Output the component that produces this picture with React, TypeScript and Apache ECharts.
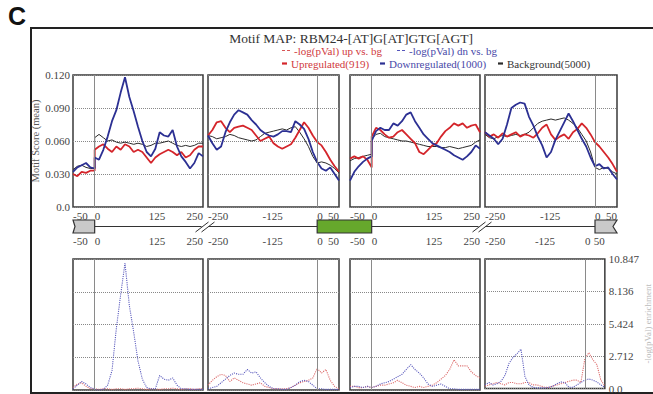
import React, { useEffect, useRef } from 'react';
import * as echarts from 'echarts';

// x positions (nt relative to splice sites); panels A have a jump at 0
const xsA = [-50,-40,-30,-20,-10,0,0,10,20,30,40,50,60,70,80,90,100,110,120,130,140,150,160,170,180,190,200,210,220,230,240,250];
const xsB = [-250,-240,-230,-220,-210,-200,-190,-180,-170,-160,-150,-140,-130,-120,-110,-100,-90,-80,-70,-60,-50,-40,-30,-20,-10,0,10,20,30,40,50];
const ticksA = [-50, 0, 125, 250];
const ticksB = [-250, -125, 0, 50];

// Motif score (mean)
const up1 = [0.030,0.028,0.032,0.031,0.033,0.033,0.052,0.055,0.057,0.053,0.050,0.055,0.052,0.057,0.055,0.050,0.052,0.050,0.045,0.040,0.045,0.048,0.050,0.052,0.050,0.047,0.050,0.045,0.047,0.052,0.055,0.055];
const dn1 = [0.032,0.036,0.038,0.040,0.036,0.035,0.045,0.043,0.052,0.064,0.078,0.088,0.104,0.118,0.100,0.087,0.073,0.060,0.050,0.046,0.053,0.068,0.065,0.064,0.070,0.055,0.046,0.041,0.035,0.040,0.049,0.046];
const bg1 = [0.034,0.037,0.038,0.036,0.035,0.035,0.063,0.066,0.063,0.060,0.061,0.059,0.058,0.059,0.058,0.057,0.058,0.057,0.055,0.056,0.058,0.058,0.059,0.060,0.058,0.056,0.055,0.056,0.055,0.056,0.058,0.058];
const up2 = [0.065,0.070,0.077,0.078,0.072,0.068,0.072,0.073,0.074,0.072,0.070,0.065,0.060,0.062,0.064,0.058,0.055,0.053,0.055,0.057,0.063,0.070,0.077,0.072,0.065,0.059,0.056,0.050,0.043,0.037,0.032];
const dn2 = [0.065,0.058,0.052,0.055,0.068,0.077,0.084,0.088,0.086,0.084,0.079,0.075,0.070,0.067,0.065,0.064,0.066,0.069,0.069,0.068,0.078,0.075,0.071,0.062,0.050,0.041,0.035,0.033,0.036,0.030,0.024];
const bg2 = [0.065,0.064,0.062,0.063,0.064,0.066,0.065,0.063,0.062,0.061,0.060,0.061,0.064,0.067,0.068,0.069,0.070,0.071,0.070,0.072,0.073,0.068,0.062,0.055,0.046,0.040,0.041,0.040,0.038,0.035,0.031];
const up3 = [0.044,0.046,0.044,0.046,0.043,0.036,0.064,0.072,0.070,0.066,0.063,0.064,0.068,0.070,0.066,0.062,0.058,0.050,0.048,0.052,0.056,0.058,0.064,0.069,0.072,0.076,0.074,0.076,0.072,0.074,0.075,0.068];
const dn3 = [0.024,0.032,0.037,0.041,0.044,0.046,0.060,0.069,0.072,0.070,0.070,0.076,0.074,0.078,0.084,0.086,0.078,0.072,0.066,0.062,0.058,0.056,0.054,0.052,0.050,0.047,0.045,0.043,0.046,0.050,0.056,0.053];
const bg3 = [0.042,0.044,0.045,0.046,0.047,0.048,0.062,0.066,0.067,0.064,0.063,0.062,0.061,0.060,0.060,0.059,0.058,0.057,0.056,0.055,0.055,0.055,0.054,0.054,0.055,0.054,0.053,0.054,0.055,0.056,0.059,0.061];
const up4 = [0.068,0.064,0.066,0.063,0.067,0.064,0.066,0.068,0.064,0.066,0.065,0.063,0.067,0.072,0.075,0.066,0.061,0.064,0.066,0.062,0.068,0.071,0.076,0.072,0.066,0.059,0.055,0.050,0.045,0.039,0.032];
const dn4 = [0.068,0.065,0.062,0.057,0.062,0.075,0.090,0.093,0.095,0.094,0.082,0.074,0.064,0.056,0.045,0.050,0.061,0.069,0.077,0.085,0.078,0.070,0.062,0.055,0.045,0.037,0.039,0.035,0.036,0.030,0.025];
const bg4 = [0.066,0.063,0.062,0.064,0.065,0.064,0.065,0.066,0.065,0.066,0.068,0.072,0.076,0.078,0.079,0.080,0.079,0.080,0.081,0.079,0.076,0.072,0.066,0.060,0.050,0.036,0.034,0.036,0.035,0.032,0.030];

// -log(pVal)
const pUp1 = [0.2,0.5,0.6,0.3,0.1,0.1,0.05,0.05,0.1,0.1,0.05,0.1,0.1,0.05,0.1,0.1,0.15,0.1,0.05,0.1,0.1,0.05,0.1,0.1,0.15,0.1,0.05,0.1,0.1,0.05,0.1,0.1];
const pDn1 = [0.1,0.4,0.7,0.5,0.2,0.1,0.0,0.0,0.05,0.4,1.6,5.1,7.9,10.5,7.0,4.8,2.4,0.9,0.2,0.1,0.1,1.2,0.9,0.8,1.0,0.4,0.1,0.1,0.05,0.05,0.05,0.05];
const pUp2 = [0.4,0.8,1.1,1.3,1.2,0.7,1.0,0.8,0.6,0.5,0.4,0.5,0.6,0.3,0.2,0.1,0.1,0.1,0.1,0.2,0.4,0.6,0.7,0.8,1.0,1.8,1.4,1.7,0.8,0.3,0.1];
const pDn2 = [0.1,0.2,0.3,0.6,0.9,1.2,1.4,1.3,1.3,1.7,1.4,1.5,1.0,0.6,0.3,0.1,0.1,0.05,0.05,0.2,0.4,0.7,0.8,0.7,0.4,0.1,0.1,0.05,0.05,0.05,0.05];
const pUp3 = [0.3,0.3,0.2,0.2,0.3,0.2,0.2,0.3,0.4,0.4,0.5,0.6,0.8,0.6,0.4,0.3,0.2,0.3,0.2,0.3,0.4,0.6,0.9,1.2,1.7,2.5,2.0,2.0,2.0,1.5,1.2,1.0];
const pDn3 = [0.2,0.3,0.3,0.2,0.3,0.2,0.2,0.3,0.5,0.6,0.7,0.9,1.1,1.3,1.7,2.1,1.7,1.4,1.0,0.5,0.3,0.4,0.5,0.3,0.1,0.1,0.05,0.05,0.05,0.05,0.05,0.05];
const pUp4 = [0.2,0.3,0.4,0.5,0.4,0.3,0.5,0.5,0.4,0.4,0.5,0.5,0.3,0.3,0.2,0.1,0.1,0.2,0.3,0.4,0.5,0.6,0.7,0.7,0.5,2.5,3.0,2.4,2.0,0.7,0.2];
const pDn4 = [0.3,0.5,0.3,0.4,0.6,1.1,2.1,2.6,2.9,3.3,1.0,0.3,0.1,0.05,0.05,0.05,0.1,0.2,0.4,0.55,0.5,0.1,0.1,0.3,0.5,0.7,0.8,0.7,0.55,0.3,0.1];

const scoreTickLabels = ['0.0', '0.030', '0.060', '0.090', '0.120'];
const pTickLabels = ['0.0', '2.712', '5.424', '8.136', '10.847'];

const NAME_UP = 'Upregulated(919)';
const NAME_DN = 'Downregulated(1000)';
const NAME_BG = 'Background(5000)';
const NAME_PUP = '-log(pVal) up vs. bg';
const NAME_PDN = '-log(pVal) dn vs. bg';

const RED = '#d4252b';
const BLUE = '#2c3093';
const BLACK = '#2b2b2b';
const FONT = "'Liberation Serif', 'DejaVu Serif', serif";

const panels = [
  { xs: xsA, up: up1, dn: dn1, bg: bg1, pUp: pUp1, pDn: pDn1, min: -50, max: 250, ticks: ticksA },
  { xs: xsB, up: up2, dn: dn2, bg: bg2, pUp: pUp2, pDn: pDn2, min: -250, max: 50, ticks: ticksB },
  { xs: xsA, up: up3, dn: dn3, bg: bg3, pUp: pUp3, pDn: pDn3, min: -50, max: 250, ticks: ticksA },
  { xs: xsB, up: up4, dn: dn4, bg: bg4, pUp: pUp4, pDn: pDn4, min: -250, max: 50, ticks: ticksB },
];

const LEFTS = [73, 208, 350, 485];
const WIDTHS = [130, 131, 130, 132];
const TOP_Y = 75, TOP_H = 132;
const BOT_Y = 259, BOT_H = 131;
const P_MAX = 10.847;
const P_INT = P_MAX / 4;

function buildOption() {
  const grid: any[] = [];
  const xAxis: any[] = [];
  const yAxis: any[] = [];
  const series: any[] = [];
  const zeroLine = {
    silent: true, symbol: 'none', label: { show: false },
    lineStyle: { color: '#8a8a8a', width: 1, type: 'solid' },
    data: [{ xAxis: 0 }],
  };
  const xLabel = (margin: number) => ({
    fontSize: 11, fontFamily: FONT, color: '#444', margin,
    align: 'left', alignMaxLabel: 'right',
  });

  panels.forEach((p, i) => {
    grid.push({ left: LEFTS[i], top: TOP_Y, width: WIDTHS[i], height: TOP_H, show: true,
      borderColor: '#3a3a3a', borderWidth: 1.5, backgroundColor: '#fff' });
    xAxis.push({ type: 'value', gridIndex: i, min: p.min, max: p.max,
      axisLine: { show: false }, axisTick: { show: false }, splitLine: { show: false },
      axisLabel: { ...xLabel(3), customValues: p.ticks } });
    yAxis.push({ type: 'value', gridIndex: i, min: 0, max: 0.12, interval: 0.03,
      axisLine: { show: false }, axisTick: { show: false },
      splitLine: { show: true, lineStyle: { type: 'dotted', color: '#888', width: 1 } },
      axisLabel: { show: i === 0, fontSize: 11, fontFamily: FONT, color: '#444', margin: 3,
        formatter: (v: number) => scoreTickLabels[Math.round(v / 0.03)] },
      name: i === 0 ? 'Motif Score (mean)' : '', nameLocation: 'middle', nameGap: 30,
      nameTextStyle: { fontSize: 10.5, fontFamily: FONT, color: '#555' } });
  });
  panels.forEach((p, i) => {
    const g = 4 + i;
    grid.push({ left: LEFTS[i], top: BOT_Y, width: WIDTHS[i], height: BOT_H, show: true,
      borderColor: '#3a3a3a', borderWidth: 1.5, backgroundColor: '#fff' });
    xAxis.push({ type: 'value', gridIndex: g, min: p.min, max: p.max, position: 'top',
      axisLine: { show: false }, axisTick: { show: false }, splitLine: { show: false },
      axisLabel: { ...xLabel(13), customValues: p.ticks } });
    yAxis.push({ type: 'value', gridIndex: g, min: 0, max: P_MAX, interval: P_INT,
      position: 'right',
      axisLine: { show: false }, axisTick: { show: false },
      splitLine: { show: true, lineStyle: { type: 'dotted', color: '#888', width: 1 } },
      axisLabel: { show: i === 3, fontSize: 11, fontFamily: FONT, color: '#444', margin: 4,
        formatter: (v: number) => pTickLabels[Math.round(v / P_INT)] },
      name: i === 3 ? '-log(pVal) enrichment' : '', nameLocation: 'middle', nameGap: 30,
      nameTextStyle: { fontSize: 9, fontFamily: FONT, color: '#bbb' } });
  });

  panels.forEach((p, i) => {
    const mk = (vals: number[]) => p.xs.map((x, j) => [x, vals[j]]);
    series.push({ type: 'line', name: NAME_BG, xAxisIndex: i, yAxisIndex: i, data: mk(p.bg),
      symbol: 'none', color: BLACK, lineStyle: { width: 1, color: BLACK }, markLine: zeroLine, z: 2 });
    series.push({ type: 'line', name: NAME_UP, xAxisIndex: i, yAxisIndex: i, data: mk(p.up),
      symbol: 'none', color: RED, lineStyle: { width: 1.8, color: RED }, z: 3 });
    series.push({ type: 'line', name: NAME_DN, xAxisIndex: i, yAxisIndex: i, data: mk(p.dn),
      symbol: 'none', color: BLUE, lineStyle: { width: 1.8, color: BLUE }, z: 4 });
    const g = 4 + i;
    series.push({ type: 'line', name: NAME_PUP, xAxisIndex: g, yAxisIndex: g, data: mk(p.pUp),
      symbol: 'none', color: '#d85555', lineStyle: { width: 1.1, type: 'dotted', color: '#dc6a6a' },
      markLine: zeroLine, z: 3 });
    series.push({ type: 'line', name: NAME_PDN, xAxisIndex: g, yAxisIndex: g, data: mk(p.pDn),
      symbol: 'none', color: '#5555bb', lineStyle: { width: 1.1, type: 'dotted', color: '#5a5abd' }, z: 4 });
  });

  // gene diagram, positioned from the panel scales
  const xPix = (i: number, v: number) =>
    LEFTS[i] + ((v - panels[i].min) / (panels[i].max - panels[i].min)) * WIDTHS[i];
  const gy = 226.5, gh = 13;
  const z0 = xPix(0, 0), z1 = xPix(1, 0), z2 = xPix(2, 0), z3 = xPix(3, 0);
  const gap1 = (LEFTS[0] + WIDTHS[0] + LEFTS[1]) / 2;
  const gap2 = (LEFTS[2] + WIDTHS[2] + LEFTS[3]) / 2;
  const right = LEFTS[3] + WIDTHS[3];
  const lineStyle = { stroke: '#333', lineWidth: 1 };
  const breakMark = (cx: number) => [
    { type: 'line', shape: { x1: cx - 10, y1: gy + 5.5, x2: cx + 3, y2: gy - 4.5 }, style: lineStyle },
    { type: 'line', shape: { x1: cx - 4, y1: gy + 5.5, x2: cx + 9, y2: gy - 4.5 }, style: lineStyle },
  ];
  const graphic: any[] = [
    { type: 'rect', shape: { x: 31, y: 28, width: 700, height: 365 }, style: { fill: 'none', stroke: '#222', lineWidth: 2 }, z: 0 },
    { type: 'text', left: 8, top: 3, style: { text: 'C', font: 'bold 25px "Liberation Sans"', fill: '#111' } },
    { type: 'text', x: 351, y: 38, style: { text: 'Motif MAP: RBM24-[AT]G[AT]GTG[AGT]', font: `13.5px ${FONT}`, fill: '#333', align: 'center', verticalAlign: 'middle' } },
    { type: 'line', shape: { x1: z0, y1: gy, x2: gap1 - 4, y2: gy }, style: lineStyle },
    { type: 'line', shape: { x1: gap1 + 3, y1: gy, x2: z1, y2: gy }, style: lineStyle },
    { type: 'line', shape: { x1: z2, y1: gy, x2: gap2 - 4, y2: gy }, style: lineStyle },
    { type: 'line', shape: { x1: gap2 + 3, y1: gy, x2: z3, y2: gy }, style: lineStyle },
    ...breakMark(gap1),
    ...breakMark(gap2),
    { type: 'polygon', shape: { points: [[LEFTS[0], gy - gh / 2], [z0, gy - gh / 2], [z0, gy + gh / 2], [LEFTS[0], gy + gh / 2], [LEFTS[0] + 2, gy]] },
      style: { fill: '#c9c9c9', stroke: '#333', lineWidth: 1.2 } },
    { type: 'rect', shape: { x: z1, y: gy - gh / 2, width: z2 - z1, height: gh },
      style: { fill: '#66a82c', stroke: '#333', lineWidth: 1.2 } },
    { type: 'polygon', shape: { points: [[z3, gy - gh / 2], [right, gy - gh / 2], [right - 4, gy], [right, gy + gh / 2], [z3, gy + gh / 2]] },
      style: { fill: '#c9c9c9', stroke: '#333', lineWidth: 1.2 } },
  ];

  const legendText = { fontSize: 11, fontFamily: FONT, padding: [0, 0, 0, -1] };
  const dashIcon = 'path://M0 0H3V1H0Z M5 0H8V1H5Z';
  const oneLegend = (name: string, color: string, left: number, top: number, dashed: boolean) => ({
    left, top, padding: 0, selectedMode: false,
    icon: dashed ? dashIcon : 'rect',
    itemWidth: dashed ? 8 : 5, itemHeight: dashed ? 1.5 : 2.2,
    textStyle: legendText,
    data: [{ name, textStyle: { color } }],
  });
  return {
    animation: false,
    backgroundColor: '#fff',
    textStyle: { fontFamily: FONT },
    grid, xAxis, yAxis, series, graphic,
    legend: [
      oneLegend(NAME_PUP, '#d0393d', 282, 45, true),
      oneLegend(NAME_PDN, '#4848a8', 397, 45, true),
      oneLegend(NAME_UP, '#d0393d', 282, 58, false),
      oneLegend(NAME_DN, '#4848a8', 380, 58, false),
      oneLegend(NAME_BG, '#333', 498, 58, false),
    ],
  };
}

export default function App() {
  const ref = useRef<HTMLDivElement>(null);
  useEffect(() => {
    if (!ref.current) return;
    const chart = echarts.init(ref.current, undefined, { renderer: 'svg' });
    chart.setOption(buildOption() as any);
    return () => chart.dispose();
  }, []);
  return <div ref={ref} style={{ position: 'absolute', left: 0, top: 0, width: 653, height: 394 }} />;
}
